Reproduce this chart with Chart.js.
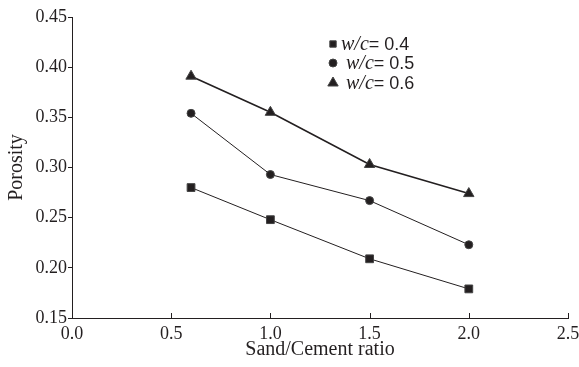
<!DOCTYPE html>
<html>
<head>
<meta charset="utf-8">
<script src="https://cdn.jsdelivr.net/npm/chart.js@4/dist/chart.umd.min.js"></script>
<style>
  html, body { margin: 0; padding: 0; background: #ffffff; }
  #porosity { display: block; }
</style>
</head>
<body>
<canvas id="porosity" width="579" height="367"></canvas>
<script>
// values
var sandCement = [0.6, 1.0, 1.5, 2.0]
var porosity04 = [0.280, 0.248, 0.209, 0.179]
var porosity05 = [0.354, 0.293, 0.267, 0.223]
var porosity06 = [0.391, 0.355, 0.303, 0.274]
var wcLabels = ["0.4", "0.5", "0.6"]
var pointStyles = ["rect", "circle", "triangle"]

var ink = "#231f20"
var serif = "'Liberation Serif', 'DejaVu Serif', serif"
var sans = "'Liberation Sans', Arial, sans-serif"

function points(values) {
  var out = new Array()
  for (var i = 0; i < sandCement.length; i++) {
    out.push({ x: sandCement[i], y: values[i] })
  }
  return out
}

function series(label, values, style, radius, lineWidth) {
  return {
    label: label,
    data: points(values),
    borderColor: ink,
    borderWidth: lineWidth,
    backgroundColor: ink,
    pointStyle: style,
    pointRadius: radius,
    pointBackgroundColor: ink,
    pointBorderColor: "#444444",
    pointBorderWidth: 1,
    tension: 0
  }
}

// x ticks in the figure point up into the plot
var innerTicks = {
  id: "innerTicks",
  afterDraw: function (chart) {
    var ctx = chart.ctx
    var xs = chart.scales.x
    ctx.save()
    ctx.strokeStyle = ink
    ctx.lineWidth = 1
    xs.ticks.forEach(function (t) {
      var px = Math.round(xs.getPixelForValue(t.value)) + 0.5
      ctx.beginPath()
      ctx.moveTo(px, xs.top)
      ctx.lineTo(px, xs.top - 5)
      ctx.stroke()
    })
    ctx.restore()
  }
}

// legend with italic w/c
var wcLegend = {
  id: "wcLegend",
  afterDraw: function (chart) {
    var ctx = chart.ctx
    var area = chart.chartArea
    var mx = area.left + 261
    var rows = [area.top + 27, area.top + 46, area.top + 66]
    var textX = [mx + 8, mx + 13, mx + 13]
    var radii = [4.5, 4, 6]
    ctx.save()
    for (var i = 0; i < wcLabels.length; i++) {
      ctx.fillStyle = ink
      ctx.strokeStyle = "#444444"
      Chart.helpers.drawPoint(ctx, { pointStyle: pointStyles[i], radius: radii[i], borderWidth: 1, rotation: 0 }, mx, rows[i])
      ctx.fillStyle = ink
      ctx.textBaseline = "middle"
      ctx.textAlign = "left"
      ctx.font = "italic 20px " + serif
      var tx = textX[i]
      ctx.fillText("w/c", tx, rows[i] + 1)
      tx += ctx.measureText("w/c").width
      ctx.font = "18px " + sans
      ctx.fillText("= " + wcLabels[i], tx, rows[i] + 1)
    }
    ctx.restore()
  }
}

new Chart(document.getElementById("porosity"), {
  type: "line",
  plugins: [innerTicks, wcLegend],
  data: {
    datasets: [
      series("w/c= 0.4", porosity04, "rect", 5.5, 1),
      series("w/c= 0.5", porosity05, "circle", 4, 1),
      series("w/c= 0.6", porosity06, "triangle", 6, 1.6)
    ]
  },
  options: {
    responsive: false,
    animation: false,
    layout: { padding: { top: 17, right: 11, left: 0, bottom: 0 } },
    plugins: {
      legend: { display: false },
      tooltip: { enabled: false }
    },
    scales: {
      x: {
        type: "linear",
        min: 0,
        max: 2.5,
        afterFit: function (scale) {
          scale.height = 49
          scale.paddingLeft = 0
          scale.paddingRight = 0
        },
        ticks: {
          stepSize: 0.5,
          padding: -3,
          color: ink,
          font: { family: serif, size: 18 },
          maxRotation: 0,
          callback: function (v) { return Number(v).toFixed(1) }
        },
        grid: { display: false },
        border: { display: true, color: ink, width: 1 },
        title: {
          display: true,
          text: "Sand/Cement ratio",
          color: ink,
          font: { family: serif, size: 20 },
          padding: { top: 3, bottom: 5 }
        }
      },
      y: {
        min: 0.15,
        max: 0.45,
        afterFit: function (scale) {
          scale.width = 72
          scale.paddingTop = 0
          scale.paddingBottom = 0
        },
        ticks: {
          stepSize: 0.05,
          padding: 1,
          color: ink,
          font: { family: serif, size: 18 },
          callback: function (v) { return Number(v).toFixed(2) }
        },
        grid: {
          display: true,
          drawOnChartArea: false,
          drawTicks: true,
          tickLength: 4,
          color: ink
        },
        border: { display: true, color: ink, width: 1 },
        title: {
          display: true,
          text: "Porosity",
          color: ink,
          font: { family: serif, size: 20 },
          padding: { top: 5, bottom: 0 }
        }
      }
    }
  }
})
</script>
</body>
</html>
